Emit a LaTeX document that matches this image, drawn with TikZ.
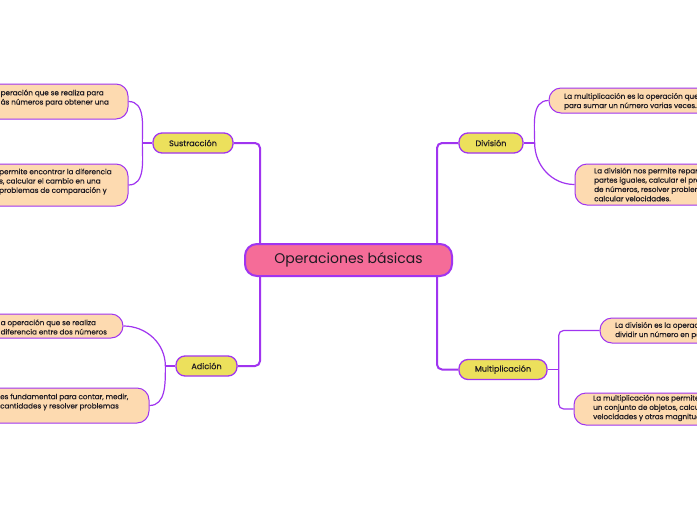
\documentclass[tikz,border=0pt]{standalone}
\usepackage{fontspec}
\setmainfont{Poppins}
\newfontfamily\mmfont{Poppins}[FakeBold=0.4]
\usetikzlibrary{positioning}
\definecolor{mmpurple}{RGB}{160,52,240}
\definecolor{mmpink}{RGB}{245,108,152}
\definecolor{mmyellow}{RGB}{236,224,92}
\definecolor{mmpeach}{RGB}{253,218,176}
\definecolor{mmtext}{RGB}{30,26,34}

\begin{document}
\begin{tikzpicture}[x=1pt, y=-1pt,
    root/.style={draw=mmpurple, line width=2pt, fill=mmpink, rounded corners=12pt,
                 minimum width=207pt, minimum height=32pt,
                 font=\fontsize{14}{16}\selectfont, text=mmtext},
    topic/.style={draw=mmpurple, line width=1.3pt, fill=mmyellow, rounded corners=9pt,
                  minimum height=20pt, inner sep=0pt,
                  font=\mmfont\fontsize{8.1}{9}\selectfont, text=mmtext},
    leaf/.style={draw=mmpurple, line width=1pt, fill=mmpeach, rounded corners=12pt, inner sep=0pt},
    leaftxt/.style={font=\mmfont\fontsize{7.2}{9.3}\selectfont, align=left, anchor=west,
                    inner sep=0pt, text=mmtext},
    trunk/.style={draw=mmpurple, line width=2pt, rounded corners=5pt},
    twig/.style={draw=mmpurple, line width=1.2pt}
  ]
  \useasboundingbox (0,0) rectangle (697,520);
  \clip (0,0) rectangle (697,520);
  \fill[white] (0,0) rectangle (697,520);

  % --- Central topic and main branches ---
  \node[root] (ops) at (348.5,260) {Operaciones básicas};
  \node[topic, minimum width=80pt] (sus) at (193,143) {Sustracción};
  \node[topic, minimum width=64pt] (div) at (491,143) {División};
  \node[topic, minimum width=61pt] (adi) at (206.5,366) {Adición};
  \node[topic, minimum width=88pt] (mul) at (503,369.5) {Multiplicación};
  \draw[trunk] ([xshift=16pt]ops.north west) |- (sus.east);
  \draw[trunk] ([xshift=-16pt]ops.north east) |- (div.west);
  \draw[trunk] ([xshift=16pt]ops.south west) |- (adi.east);
  \draw[trunk] ([xshift=-16pt]ops.south east) |- (mul.west);

  % --- Sustraccion ---
  \node[leaf, minimum width=168pt, minimum height=35pt] (sus1) at (44,101.5) {};
  \node[leaftxt] (sus1t) at (0.5,98) {peración que se realiza para\\ás números para obtener una};
  \node[leaf, minimum width=168pt, minimum height=42pt] (sus2) at (44,185) {};
  \node[leaftxt] (sus2t) at (-1,181.7)
    {permite encontrar la diferencia\\s, calcular el cambio en una\\problemas de comparación y};
  \draw[twig] (sus.west) -- ++(-10,0) coordinate (susj);
  \draw[twig] (susj) to[out=90, in=0] (sus1.east);
  \draw[twig] (susj) to[out=-90, in=0] (sus2.east);

  % --- Division ---
  \node[leaf, minimum width=211pt, minimum height=25pt] (div1) at (654.5,100.5) {};
  \node[leaftxt] (div1t) at (564,101.5)
    {La multiplicación es la operación que\\para sumar un número varias veces.};
  \node[leaf, minimum width=185pt, minimum height=41pt] (div2) at (667.5,184.5) {};
  \node[leaftxt] (div2t) at (594,184.5)
    {La división nos permite repartir\\partes iguales, calcular el promedio\\de números, resolver problemas\\calcular velocidades.};
  \draw[twig] (div.east) -- ++(11,0) coordinate (divj);
  \draw[twig] (divj) to[out=90, in=180] (div1.west);
  \draw[twig] (divj) to[out=-90, in=180] (div2.west);

  % --- Adicion ---
  \node[leaf, minimum width=163pt, minimum height=24pt] (adi1) at (41.5,326) {};
  \node[leaftxt] (adi1t) at (0.5,327) {a operación que se realiza\\diferencia entre dos números};
  \node[leaf, minimum width=189pt, minimum height=35pt] (adi2) at (54.5,405.5) {};
  \node[leaftxt] (adi2t) at (0,402)
    {es fundamental para contar, medir,\\cantidades y resolver problemas};
  \draw[twig] (adi.west) -- ++(-10,0) coordinate (adij);
  \draw[twig] (adij) to[out=90, in=0] (adi1.east);
  \draw[twig] (adij) to[out=-90, in=0] (adi2.east);

  % --- Multiplicacion ---
  \node[leaf, minimum width=160pt, minimum height=25pt] (mul1) at (680,330.5) {};
  \node[leaftxt] (mul1t) at (615,330.5)
    {La división es la operación\\dividir un número en partes};
  \node[leaf, minimum width=186pt, minimum height=32pt] (mul2) at (667,409) {};
  \node[leaftxt] (mul2t) at (593,408)
    {La multiplicación nos permite contar\\un conjunto de objetos, calcular\\velocidades y otras magnitudes};
  \draw[twig] (mul.east) -- ++(11,0) coordinate (mulj);
  \draw[twig, rounded corners=5pt] (mulj) |- (mul1.west);
  \draw[twig, rounded corners=5pt] (mulj) |- (mul2.west);
\end{tikzpicture}
\end{document}
